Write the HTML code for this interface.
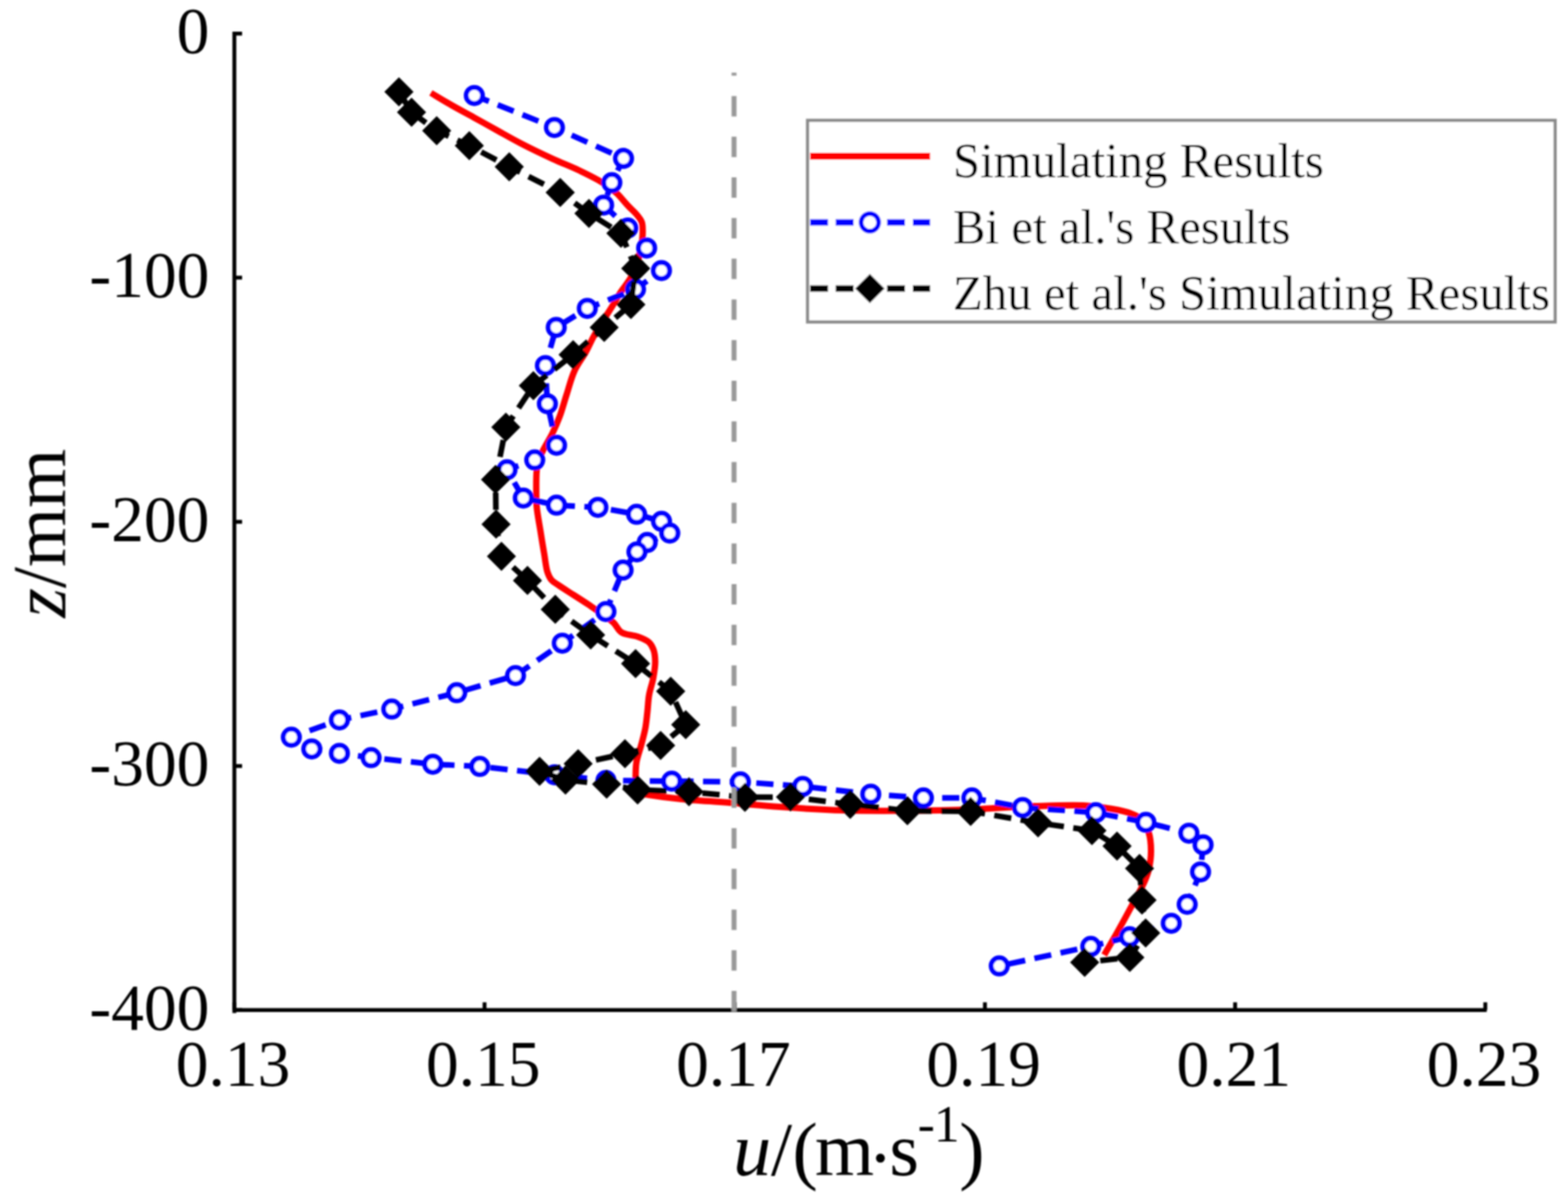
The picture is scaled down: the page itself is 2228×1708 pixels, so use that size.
<!DOCTYPE html>
<html><head><meta charset="utf-8"><title>Velocity profile</title>
<style>html,body{margin:0;padding:0;background:#fff;}svg{display:block;}.t{font-family:"Liberation Serif",serif;}</style>
</head><body>
<svg xmlns="http://www.w3.org/2000/svg" width="2228" height="1708" viewBox="0 0 2228 1708"><rect width="2228" height="1708" fill="#fff"/><defs><filter id="bl" x="0" y="0" width="100%" height="100%" filterUnits="userSpaceOnUse"><feGaussianBlur stdDeviation="0.8"/></filter></defs><g filter="url(#bl)"><path d="M612.3 132.0C621.5 137.5 630.3 142.9 640.0 148.5C650.5 154.5 662.1 160.7 673.0 166.7C683.8 172.7 694.1 178.5 705.0 184.5C716.4 190.8 727.5 197.2 740.0 203.7C754.1 211.0 771.2 219.2 785.6 225.8C798.4 231.7 810.9 236.5 822.1 241.8C832.0 246.5 841.7 251.3 849.5 255.7C855.5 259.1 860.3 262.1 865.0 265.5C869.3 268.6 872.8 271.2 876.8 275.0C881.7 279.6 886.9 286.7 891.7 291.7C895.8 296.1 900.1 299.5 903.6 303.6C906.8 307.4 910.3 311.3 911.9 315.5C913.3 319.3 913.1 323.4 913.2 327.4C913.3 331.5 913.1 335.9 912.6 340.0C912.1 344.1 911.4 347.5 910.5 352.0C909.3 357.8 908.2 365.2 906.0 372.0C903.5 379.5 900.0 387.8 896.0 395.0C892.0 402.1 886.5 408.1 882.0 415.0C877.4 422.2 873.1 430.2 868.6 437.4C864.4 444.2 860.1 450.3 856.0 457.0C851.8 463.7 847.7 470.5 843.8 477.6C839.8 484.8 836.8 492.3 832.5 500.0C827.7 508.7 820.8 517.2 816.3 527.0C811.5 537.4 808.6 550.0 805.0 561.0C801.6 571.4 798.9 582.0 795.4 591.4C792.2 599.9 789.0 607.4 785.2 615.2C781.3 623.2 775.7 631.8 772.1 639.0C769.2 644.8 766.6 649.8 765.0 655.0C763.6 659.7 763.1 663.3 762.6 668.8C761.8 676.8 762.0 689.5 762.0 698.6C762.0 706.3 761.9 712.1 762.6 720.0C763.5 730.1 766.1 743.1 767.9 754.3C769.6 765.2 771.4 776.3 773.2 786.5C774.8 795.8 775.7 806.5 778.0 813.3C779.5 817.8 780.9 821.0 783.5 824.0C786.1 827.1 789.6 828.7 793.6 831.5C799.4 835.5 807.9 840.8 815.0 845.4C822.2 850.0 830.6 855.4 836.5 859.3C840.6 862.1 842.8 863.5 847.0 866.5C853.5 871.1 865.2 878.6 871.6 884.6C876.5 889.3 878.0 895.3 883.2 898.6C889.2 902.4 899.5 902.2 906.4 904.8C912.2 907.0 918.2 909.1 922.0 912.5C925.2 915.4 927.0 918.9 928.5 923.0C930.3 927.8 930.9 933.9 931.0 940.0C931.1 947.3 929.6 955.9 928.2 963.8C926.7 971.8 923.7 979.6 922.3 987.6C920.9 995.5 920.8 1003.5 919.9 1011.4C919.0 1019.3 918.4 1027.3 916.9 1035.2C915.4 1043.2 913.1 1051.1 911.0 1059.0C908.9 1067.0 905.7 1075.5 904.4 1082.9C903.3 1089.2 903.3 1094.8 903.2 1100.7C903.1 1106.5 902.7 1113.3 903.5 1118.0C904.1 1121.4 904.3 1124.6 906.5 1126.5C909.4 1129.0 915.2 1128.4 921.6 1129.5C932.8 1131.3 951.1 1133.8 968.2 1135.5C989.1 1137.6 1014.7 1138.8 1038.0 1140.7C1061.2 1142.5 1082.9 1144.9 1107.7 1146.6C1136.1 1148.6 1168.6 1150.6 1199.0 1151.5C1229.3 1152.4 1260.5 1152.2 1290.0 1152.0C1318.0 1151.8 1343.5 1151.5 1372.0 1150.5C1403.1 1149.4 1439.3 1146.5 1469.5 1145.6C1495.6 1144.8 1522.4 1143.6 1542.5 1144.7C1556.8 1145.5 1567.8 1147.3 1579.0 1149.3C1588.7 1151.0 1598.3 1152.6 1606.0 1155.5C1612.2 1157.8 1617.7 1159.8 1622.0 1164.0C1626.5 1168.5 1629.7 1175.1 1632.0 1182.0C1634.6 1190.0 1635.5 1200.3 1635.5 1209.5C1635.5 1218.7 1633.9 1229.2 1632.0 1237.0C1630.5 1243.1 1628.9 1246.8 1626.2 1253.0C1622.2 1262.1 1614.9 1274.6 1608.8 1285.9C1602.2 1298.2 1594.8 1311.8 1588.0 1324.0C1581.6 1335.4 1575.3 1346.0 1569.0 1357.0" fill="none" stroke="#ff0000" stroke-width="9" stroke-linejoin="round" stroke-linecap="butt"/><polyline points="674.0,135.7 787.8,181.2 886.0,225.1 869.4,259.6 857.7,291.4 892.0,324.0 918.8,352.4 939.9,384.4 903.0,411.0 834.5,438.2 790.4,465.2 775.0,519.4 777.8,573.7 790.8,632.7 759.8,653.6 720.4,667.5 743.6,707.7 790.8,717.8 849.6,720.9 904.6,730.8 940.0,740.8 951.7,757.5 919.6,770.8 905.0,784.2 885.4,810.0 861.0,869.0 799.0,913.9 732.5,960.0 649.0,984.3 556.7,1007.6 482.3,1023.0 414.0,1047.5 443.0,1064.2 482.3,1070.4 527.3,1076.6 615.0,1085.9 681.8,1089.1 788.0,1101.0 861.0,1109.0 954.5,1110.0 1052.1,1111.0 1140.6,1117.4 1237.3,1128.4 1312.1,1133.8 1381.0,1133.8 1453.0,1147.4 1557.0,1154.7 1628.2,1168.4 1689.4,1183.9 1709.5,1200.4 1705.9,1238.9 1686.9,1285.0 1664.3,1311.9 1605.0,1331.0 1549.9,1344.8 1419.9,1372.6" fill="none" stroke="#0000ff" stroke-width="8" stroke-dasharray="24.43 13.44" stroke-dashoffset="2.14" stroke-linejoin="round"/><g fill="#fff" stroke="#0000ff" stroke-width="7"><circle cx="674.0" cy="135.7" r="11.5"/><circle cx="787.8" cy="181.2" r="11.5"/><circle cx="886.0" cy="225.1" r="11.5"/><circle cx="869.4" cy="259.6" r="11.5"/><circle cx="857.7" cy="291.4" r="11.5"/><circle cx="892.0" cy="324.0" r="11.5"/><circle cx="918.8" cy="352.4" r="11.5"/><circle cx="939.9" cy="384.4" r="11.5"/><circle cx="903.0" cy="411.0" r="11.5"/><circle cx="834.5" cy="438.2" r="11.5"/><circle cx="790.4" cy="465.2" r="11.5"/><circle cx="775.0" cy="519.4" r="11.5"/><circle cx="777.8" cy="573.7" r="11.5"/><circle cx="790.8" cy="632.7" r="11.5"/><circle cx="759.8" cy="653.6" r="11.5"/><circle cx="720.4" cy="667.5" r="11.5"/><circle cx="743.6" cy="707.7" r="11.5"/><circle cx="790.8" cy="717.8" r="11.5"/><circle cx="849.6" cy="720.9" r="11.5"/><circle cx="904.6" cy="730.8" r="11.5"/><circle cx="940.0" cy="740.8" r="11.5"/><circle cx="951.7" cy="757.5" r="11.5"/><circle cx="919.6" cy="770.8" r="11.5"/><circle cx="905.0" cy="784.2" r="11.5"/><circle cx="885.4" cy="810.0" r="11.5"/><circle cx="861.0" cy="869.0" r="11.5"/><circle cx="799.0" cy="913.9" r="11.5"/><circle cx="732.5" cy="960.0" r="11.5"/><circle cx="649.0" cy="984.3" r="11.5"/><circle cx="556.7" cy="1007.6" r="11.5"/><circle cx="482.3" cy="1023.0" r="11.5"/><circle cx="414.0" cy="1047.5" r="11.5"/><circle cx="443.0" cy="1064.2" r="11.5"/><circle cx="482.3" cy="1070.4" r="11.5"/><circle cx="527.3" cy="1076.6" r="11.5"/><circle cx="615.0" cy="1085.9" r="11.5"/><circle cx="681.8" cy="1089.1" r="11.5"/><circle cx="788.0" cy="1101.0" r="11.5"/><circle cx="861.0" cy="1109.0" r="11.5"/><circle cx="954.5" cy="1110.0" r="11.5"/><circle cx="1052.1" cy="1111.0" r="11.5"/><circle cx="1140.6" cy="1117.4" r="11.5"/><circle cx="1237.3" cy="1128.4" r="11.5"/><circle cx="1312.1" cy="1133.8" r="11.5"/><circle cx="1381.0" cy="1133.8" r="11.5"/><circle cx="1453.0" cy="1147.4" r="11.5"/><circle cx="1557.0" cy="1154.7" r="11.5"/><circle cx="1628.2" cy="1168.4" r="11.5"/><circle cx="1689.4" cy="1183.9" r="11.5"/><circle cx="1709.5" cy="1200.4" r="11.5"/><circle cx="1705.9" cy="1238.9" r="11.5"/><circle cx="1686.9" cy="1285.0" r="11.5"/><circle cx="1664.3" cy="1311.9" r="11.5"/><circle cx="1605.0" cy="1331.0" r="11.5"/><circle cx="1549.9" cy="1344.8" r="11.5"/><circle cx="1419.9" cy="1372.6" r="11.5"/></g><polyline points="566.9,130.4 584.8,159.5 620.5,185.7 666.9,207.1 723.6,237.0 796.0,273.5 836.9,303.3 882.3,331.5 903.4,381.4 896.5,432.7 858.5,465.2 814.4,504.0 757.9,548.0 718.8,607.0 704.1,681.4 704.9,744.9 712.5,790.5 749.5,824.9 789.0,865.9 839.3,902.3 903.1,943.0 953.0,982.3 974.4,1029.8 938.7,1059.3 888.0,1071.0 821.5,1085.3 766.7,1096.0 803.5,1108.4 862.0,1114.2 906.0,1122.5 979.0,1125.0 1058.5,1132.9 1123.2,1132.5 1208.1,1143.0 1289.3,1152.1 1379.2,1152.9 1475.0,1169.3 1551.6,1180.3 1587.2,1202.2 1619.2,1234.0 1622.7,1278.9 1627.9,1325.8 1605.4,1360.4 1541.2,1367.4" fill="none" stroke="#000" stroke-width="8" stroke-dasharray="24.43 13.44" stroke-dashoffset="2.85" stroke-linejoin="round"/><g fill="#000"><path d="M566.9 109.7L587.6 130.4L566.9 151.2L546.1 130.4Z"/><path d="M584.8 138.8L605.5 159.5L584.8 180.2L564.0 159.5Z"/><path d="M620.5 164.9L641.2 185.7L620.5 206.4L599.8 185.7Z"/><path d="M666.9 186.3L687.6 207.1L666.9 227.8L646.1 207.1Z"/><path d="M723.6 216.2L744.4 237.0L723.6 257.8L702.9 237.0Z"/><path d="M796.0 252.8L816.8 273.5L796.0 294.2L775.2 273.5Z"/><path d="M836.9 282.6L857.6 303.3L836.9 324.1L816.1 303.3Z"/><path d="M882.3 310.8L903.0 331.5L882.3 352.2L861.5 331.5Z"/><path d="M903.4 360.6L924.1 381.4L903.4 402.1L882.6 381.4Z"/><path d="M896.5 411.9L917.2 432.7L896.5 453.4L875.8 432.7Z"/><path d="M858.5 444.4L879.2 465.2L858.5 485.9L837.8 465.2Z"/><path d="M814.4 483.2L835.1 504.0L814.4 524.8L793.6 504.0Z"/><path d="M757.9 527.2L778.6 548.0L757.9 568.8L737.1 548.0Z"/><path d="M718.8 586.2L739.5 607.0L718.8 627.8L698.0 607.0Z"/><path d="M704.1 660.6L724.9 681.4L704.1 702.1L683.4 681.4Z"/><path d="M704.9 724.1L725.6 744.9L704.9 765.6L684.1 744.9Z"/><path d="M712.5 769.8L733.2 790.5L712.5 811.2L691.8 790.5Z"/><path d="M749.5 804.1L770.2 824.9L749.5 845.6L728.8 824.9Z"/><path d="M789.0 845.1L809.8 865.9L789.0 886.6L768.2 865.9Z"/><path d="M839.3 881.5L860.0 902.3L839.3 923.0L818.5 902.3Z"/><path d="M903.1 922.2L923.9 943.0L903.1 963.8L882.4 943.0Z"/><path d="M953.0 961.5L973.8 982.3L953.0 1003.0L932.2 982.3Z"/><path d="M974.4 1009.0L995.1 1029.8L974.4 1050.5L953.6 1029.8Z"/><path d="M938.7 1038.5L959.5 1059.3L938.7 1080.0L918.0 1059.3Z"/><path d="M888.0 1050.2L908.8 1071.0L888.0 1091.8L867.2 1071.0Z"/><path d="M821.5 1064.5L842.2 1085.3L821.5 1106.0L800.8 1085.3Z"/><path d="M766.7 1075.2L787.5 1096.0L766.7 1116.8L746.0 1096.0Z"/><path d="M803.5 1087.7L824.2 1108.4L803.5 1129.2L782.8 1108.4Z"/><path d="M862.0 1093.5L882.8 1114.2L862.0 1135.0L841.2 1114.2Z"/><path d="M906.0 1101.8L926.8 1122.5L906.0 1143.2L885.2 1122.5Z"/><path d="M979.0 1104.2L999.8 1125.0L979.0 1145.8L958.2 1125.0Z"/><path d="M1058.5 1112.2L1079.2 1132.9L1058.5 1153.7L1037.8 1132.9Z"/><path d="M1123.2 1111.8L1144.0 1132.5L1123.2 1153.2L1102.5 1132.5Z"/><path d="M1208.1 1122.2L1228.8 1143.0L1208.1 1163.8L1187.3 1143.0Z"/><path d="M1289.3 1131.3L1310.0 1152.1L1289.3 1172.8L1268.5 1152.1Z"/><path d="M1379.2 1132.2L1400.0 1152.9L1379.2 1173.7L1358.5 1152.9Z"/><path d="M1475.0 1148.5L1495.8 1169.3L1475.0 1190.0L1454.2 1169.3Z"/><path d="M1551.6 1159.5L1572.3 1180.3L1551.6 1201.0L1530.8 1180.3Z"/><path d="M1587.2 1181.5L1608.0 1202.2L1587.2 1223.0L1566.5 1202.2Z"/><path d="M1619.2 1213.2L1640.0 1234.0L1619.2 1254.8L1598.5 1234.0Z"/><path d="M1622.7 1258.2L1643.5 1278.9L1622.7 1299.7L1602.0 1278.9Z"/><path d="M1627.9 1305.0L1648.7 1325.8L1627.9 1346.5L1607.2 1325.8Z"/><path d="M1605.4 1339.7L1626.2 1360.4L1605.4 1381.2L1584.7 1360.4Z"/><path d="M1541.2 1346.7L1562.0 1367.4L1541.2 1388.2L1520.5 1367.4Z"/></g><path d="M333.0 45.0V1439.6M330.3 1435.3H2112.5" fill="none" stroke="#000" stroke-width="5.5"/><path d="M333.0 47.7H344.0M333.0 394.6H344.0M333.0 741.5H344.0M333.0 1088.4H344.0M333.0 1435.3H344.0M333.0 1435.3V1424.3M688.5 1435.3V1424.3M1044.0 1435.3V1424.3M1399.5 1435.3V1424.3M1755.0 1435.3V1424.3M2110.5 1435.3V1424.3" fill="none" stroke="#000" stroke-width="5.5"/><path d="M1043.0 1437V103.3" fill="none" stroke="#999" stroke-width="7" stroke-dasharray="29 28.8"/><g class="t" font-size="93" fill="#000"><text x="297.5" y="75.2" text-anchor="end">0</text><text x="297.5" y="422.1" text-anchor="end">-100</text><text x="297.5" y="769.0" text-anchor="end">-200</text><text x="297.5" y="1115.9" text-anchor="end">-300</text><text x="297.5" y="1462.8" text-anchor="end">-400</text><text x="331.0" y="1542.8" text-anchor="middle">0.13</text><text x="686.5" y="1542.8" text-anchor="middle">0.15</text><text x="1042.0" y="1542.8" text-anchor="middle">0.17</text><text x="1397.5" y="1542.8" text-anchor="middle">0.19</text><text x="1753.0" y="1542.8" text-anchor="middle">0.21</text><text x="2108.5" y="1542.8" text-anchor="middle">0.23</text></g><g class="t" fill="#000"><text x="1041.8" y="1670.3" font-size="108" font-style="italic">u</text><text x="1095.6" y="1670.3" font-size="108">/</text><text x="1126.0" y="1670.3" font-size="108">(</text><text x="1157.9" y="1670.3" font-size="108">m</text><text x="1233.0" y="1680.6" font-size="108">·</text><text x="1263.7" y="1670.3" font-size="108">s</text><text x="1304.1" y="1621.8" font-size="73">-</text><text x="1327.0" y="1621.8" font-size="73">1</text><text x="1363.0" y="1670.3" font-size="108">)</text></g><text transform="translate(92.8 877.7) rotate(-90)" class="t" font-size="108" fill="#000"><tspan font-style="italic">z</tspan>/mm</text><rect x="1147.5" y="171" width="1062.2" height="286.5" fill="#fff" stroke="#8a8a8a" stroke-width="4.5"/><path d="M1151 222H1321.6" stroke="#ff0000" stroke-width="10" fill="none"/><path d="M1151 316H1321.6" stroke="#0000ff" stroke-width="9" stroke-dasharray="25.5 11" fill="none"/><circle cx="1236" cy="316" r="12.5" fill="#fff" stroke="#0000ff" stroke-width="6.5"/><path d="M1151 410H1321.6" stroke="#000" stroke-width="9" stroke-dasharray="25.5 11" fill="none"/><path d="M1236.0 389.2L1256.8 410.0L1236.0 430.8L1215.2 410.0Z" fill="#000"/><g class="t" font-size="69.5" fill="#000"><text x="1354" y="252.0">Simulating Results</text><text x="1354" y="346.0">Bi et al.'s Results</text><text x="1354" y="440.0">Zhu et al.'s Simulating Results</text></g></g></svg>
</body></html>
